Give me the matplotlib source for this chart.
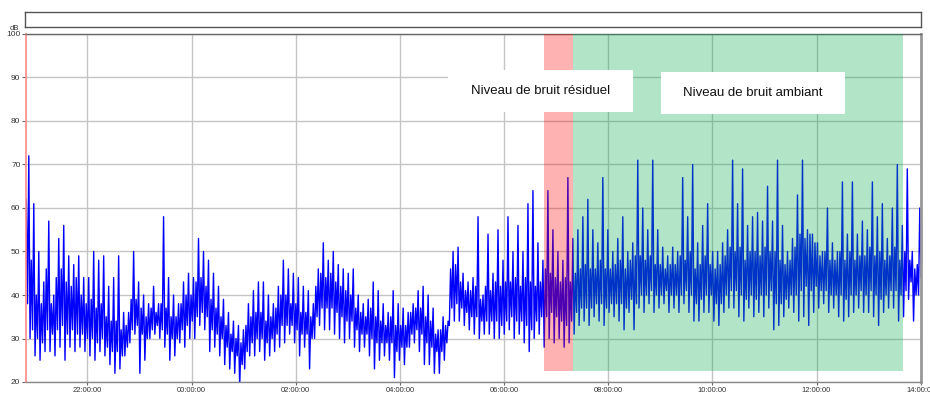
import numpy as np
import pandas as pd
import matplotlib
matplotlib.use('Agg')
import matplotlib.pyplot as plt
import matplotlib.dates as mdates
from matplotlib.patches import Rectangle

W, H = 930, 394

# LAeq record, per 345 s block: min, max and the range the bulk of samples sit in (dB)
t_start = pd.Timestamp('2021-06-14 20:48:15')
step = pd.Timedelta(seconds=345)
lvl_lo = [34, 30, 26, 25, 27, 27, 26, 28, 25, 28, 27, 28, 27, 26, 25, 27, 26, 24, 22, 23,
          26, 29, 31, 22, 25, 30, 31, 30, 28, 25, 26, 29, 28, 30, 30, 33, 32, 27, 28, 26,
          24, 23, 22, 19, 23, 26, 26, 27, 25, 26, 27, 28, 29, 31, 29, 26, 28, 23, 30, 33,
          32, 32, 31, 30, 29, 30, 28, 27, 28, 26, 23, 25, 26, 25, 21, 25, 24, 28, 29, 27,
          24, 24, 22, 22, 25, 33, 34, 34, 33, 32, 31, 30, 31, 31, 30, 30, 31, 32, 30, 31,
          29, 27, 30, 31, 28, 30, 29, 30, 28, 29, 31, 33, 34, 33, 35, 34, 33, 36, 35, 34,
          32, 36, 32, 37, 36, 38, 36, 37, 38, 36, 37, 36, 38, 36, 34, 34, 36, 36, 34, 33,
          36, 37, 37, 35, 34, 37, 35, 36, 35, 37, 32, 33, 35, 37, 36, 34, 35, 33, 36, 37,
          38, 36, 37, 35, 34, 35, 36, 37, 36, 36, 35, 33, 36, 37, 37, 34, 35, 39, 34, 40]
lvl_hi = [72, 61, 50, 43, 57, 40, 53, 56, 49, 47, 49, 44, 44, 50, 48, 49, 42, 44, 49, 36,
          36, 50, 43, 40, 38, 42, 38, 58, 44, 40, 38, 43, 45, 44, 53, 50, 48, 45, 42, 39,
          36, 34, 33, 32, 38, 41, 43, 43, 40, 38, 42, 48, 46, 45, 44, 42, 41, 38, 46, 52,
          48, 50, 47, 46, 45, 46, 40, 38, 39, 43, 41, 38, 36, 41, 38, 37, 36, 38, 41, 42,
          40, 37, 32, 35, 34, 50, 51, 45, 43, 44, 58, 40, 54, 45, 55, 48, 58, 50, 56, 50,
          61, 64, 52, 48, 64, 55, 50, 48, 67, 53, 55, 58, 62, 55, 52, 67, 55, 50, 53, 58,
          50, 52, 71, 60, 55, 71, 55, 51, 49, 51, 50, 67, 58, 70, 52, 56, 61, 50, 50, 52,
          55, 71, 61, 69, 56, 58, 59, 57, 65, 57, 71, 56, 50, 53, 63, 71, 55, 54, 52, 50,
          60, 52, 50, 66, 54, 66, 54, 57, 55, 66, 58, 61, 53, 60, 70, 56, 69, 50, 47, 78]
core_lo = [38, 32, 30, 29, 32, 31, 32, 33, 31, 32, 31, 31, 30, 30, 29, 30, 28, 27, 27, 26,
           28, 32, 33, 31, 30, 32, 33, 32, 31, 30, 30, 32, 33, 34, 35, 36, 35, 32, 31, 30,
           28, 27, 26, 24, 27, 29, 30, 30, 29, 30, 31, 33, 33, 33, 32, 31, 31, 30, 35, 37,
           37, 37, 36, 35, 34, 34, 32, 31, 31, 30, 29, 29, 29, 29, 27, 28, 28, 31, 32, 31,
           29, 28, 27, 27, 29, 37, 38, 37, 36, 35, 35, 34, 34, 34, 34, 33, 34, 35, 34, 34,
           33, 32, 34, 35, 35, 36, 35, 34, 33, 34, 36, 37, 37, 37, 38, 38, 37, 38, 38, 38,
           37, 39, 38, 40, 40, 41, 40, 40, 41, 40, 40, 40, 41, 40, 38, 39, 40, 40, 38, 38,
           40, 41, 41, 40, 39, 40, 39, 40, 40, 41, 38, 38, 39, 40, 40, 41, 42, 41, 42, 41,
           41, 40, 40, 40, 39, 40, 40, 41, 40, 41, 40, 39, 40, 41, 41, 40, 41, 43, 40, 44]
core_hi = [62, 48, 40, 38, 46, 38, 44, 46, 43, 42, 44, 40, 38, 39, 37, 38, 35, 34, 34, 32,
           33, 39, 39, 37, 35, 37, 36, 38, 37, 35, 35, 38, 40, 40, 43, 44, 42, 39, 37, 35,
           33, 31, 30, 29, 33, 35, 36, 36, 34, 35, 37, 40, 40, 38, 38, 36, 36, 35, 42, 45,
           44, 45, 43, 42, 41, 40, 37, 36, 35, 37, 35, 34, 33, 35, 33, 33, 33, 36, 37, 37,
           35, 34, 31, 32, 33, 46, 47, 43, 41, 41, 42, 39, 42, 41, 43, 42, 43, 43, 44, 42,
           44, 43, 42, 43, 46, 45, 44, 43, 44, 43, 45, 46, 47, 46, 46, 48, 46, 46, 47, 48,
           46, 48, 49, 49, 48, 49, 47, 47, 46, 47, 47, 49, 48, 50, 46, 47, 49, 47, 46, 47,
           49, 51, 50, 51, 48, 50, 50, 49, 51, 50, 50, 48, 47, 48, 51, 54, 53, 54, 52, 49,
           50, 48, 48, 50, 48, 50, 48, 49, 49, 51, 49, 50, 48, 49, 51, 48, 50, 48, 46, 60]

# periods picked out on the record
residual = (pd.Timestamp('2021-06-15 06:46'), pd.Timestamp('2021-06-15 07:19'))
ambient = (pd.Timestamp('2021-06-15 07:19'), pd.Timestamp('2021-06-15 13:40'))
band_floor = 22.6

# four samples per block: min, upper bulk, lower bulk, max
n = len(lvl_lo)
blocks = t_start + step * np.arange(n)
times = pd.DatetimeIndex(np.column_stack([blocks + step * k / 4 for k in range(4)]).ravel())
levels = np.column_stack([lvl_lo, core_hi, core_lo, lvl_hi]).ravel()

def fx(x): return x / W
def fy(y): return 1 - y / H

fig = plt.figure(figsize=(W / 100, H / 100), dpi=100)
fig.patch.set_facecolor('white')

# empty header strip
hdr = fig.add_axes([fx(25), fy(27), fx(896), 15 / H])
hdr.set_xticks([]); hdr.set_yticks([])
for s in hdr.spines.values():
    s.set_color('#555555'); s.set_linewidth(1)

ax = fig.add_axes([fx(26), fy(382), fx(921 - 26), (382 - 34) / H])
ax.plot(times, levels, color='#0000ff', lw=1.0, zorder=2)

ax.fill_between([residual[0], residual[1]], band_floor, 100, color='#ff0000', alpha=0.3, lw=0, zorder=3)
ax.fill_between([ambient[0], ambient[1]], band_floor, 100, color='#00ab47', alpha=0.3, lw=0, zorder=3)

ax.set_ylim(20, 100)
ax.set_xlim(pd.Timestamp('2021-06-14 20:49:20'), pd.Timestamp('2021-06-15 14:00:20'))
ax.set_yticks(np.arange(20, 101, 10))
ax.xaxis.set_major_locator(mdates.HourLocator(byhour=range(0, 24, 2)))
ax.xaxis.set_major_formatter(mdates.DateFormatter('%H:%M:%S'))
ax.grid(True, color='#c4c4c4', lw=1)
ax.set_axisbelow(True)
ax.tick_params(axis='y', length=3, width=0.8, color='#666666', labelsize=6, labelcolor='#333333', pad=1)
ax.tick_params(axis='x', length=2, width=0.8, color='#666666', labelsize=5.5, labelcolor='#333333', pad=1.5)
for lab in ax.get_yticklabels() + ax.get_xticklabels():
    lab.set_family('Liberation Sans')

ax.spines['left'].set_color('#ff8a8a'); ax.spines['left'].set_linewidth(1.2)
ax.spines['top'].set_color('#666666'); ax.spines['top'].set_linewidth(1)
ax.spines['right'].set_color('#999999'); ax.spines['right'].set_linewidth(2)
ax.spines['bottom'].set_color('#888888'); ax.spines['bottom'].set_linewidth(1)

fig.text(fx(14), fy(28), 'dB', fontsize=5.5, color='#333333', ha='center', va='center',
         family='Liberation Sans')

# label boxes
for (x0, y0, x1, y1), txt in [((448, 70, 633, 112), 'Niveau de bruit résiduel'),
                              ((661, 72, 845, 114), 'Niveau de bruit ambiant')]:
    fig.add_artist(Rectangle((fx(x0), fy(y1)), fx(x1 - x0), (y1 - y0) / H,
                             transform=fig.transFigure, facecolor='white', edgecolor='none', zorder=5))
    fig.text(fx((x0 + x1) / 2), fy((y0 + y1) / 2), txt, fontsize=9.5, family='Liberation Sans',
             color='#111111', ha='center', va='center', zorder=6)

fig.savefig('out.png', dpi=100)
